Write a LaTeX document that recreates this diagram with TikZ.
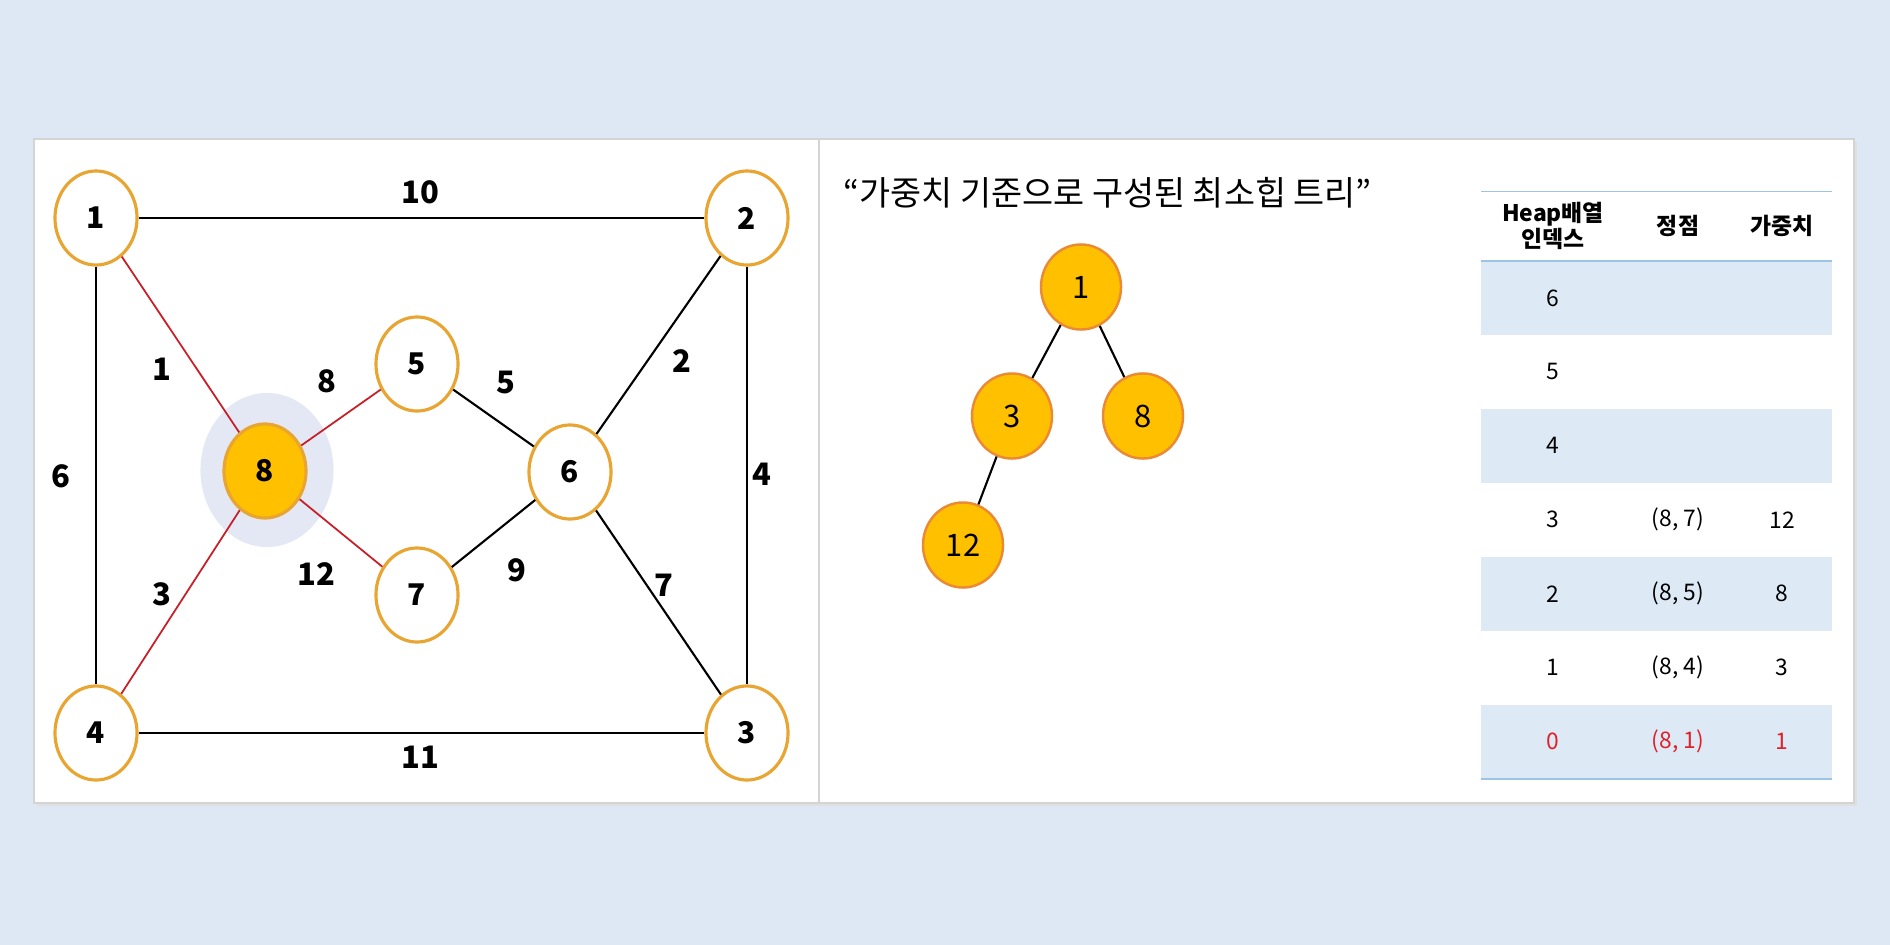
\documentclass[tikz,border=0pt]{standalone}
\usepackage{fontspec}
\setmainfont{Noto Sans CJK KR}
\usetikzlibrary{shapes.geometric}

\definecolor{pagebg}{HTML}{DEE8F5}
\definecolor{halocol}{HTML}{E3E8F4}
\definecolor{vtxline}{HTML}{E8A532}
\definecolor{heapfill}{HTML}{FFC000}
\definecolor{heapline}{HTML}{EB8A35}
\definecolor{mstred}{HTML}{C81E28}
\definecolor{txtred}{HTML}{E0202A}
\definecolor{rowblue}{HTML}{DDEAF6}
\definecolor{rulecol}{HTML}{9DC3E6}
\definecolor{panelline}{HTML}{D4D4D4}

\tikzset{
  vtx/.style={ellipse, draw=vtxline, line width=0.9pt, fill=white,
    minimum width=0.82cm, minimum height=0.94cm, inner sep=0pt,
    font=\fontsize{8.5}{10}\selectfont\bfseries},
  vtxsel/.style={vtx, fill=heapfill},
  heapnode/.style={ellipse, draw=heapline, line width=0.7pt, fill=heapfill,
    minimum width=0.80cm, minimum height=0.85cm, inner sep=0pt,
    font=\fontsize{8.8}{10}\selectfont},
  wlabel/.style={font=\fontsize{8.8}{10}\selectfont\bfseries, inner sep=0pt},
  edge/.style={line width=0.6pt, black},
  mstedge/.style={line width=0.5pt, mstred},
  tabtxt/.style={font=\fontsize{6.5}{7.3}\selectfont, inner sep=0pt},
  tabhead/.style={font=\fontsize{6.5}{7.3}\selectfont\bfseries, inner sep=0pt, align=center}
}

\begin{document}
\begin{tikzpicture}[x=0.01cm, y=-0.01cm]
    % page and panel
    \fill[pagebg] (0,0) rectangle (1890,945);
    \useasboundingbox (0,0) rectangle (1890,945);
    \fill[black!12] (37,142) rectangle (1857,806);
    \fill[white, draw=panelline, line width=0.4pt] (34,139) rectangle (1854,803);
    \draw[panelline, line width=0.6pt] (819,139) -- (819,803);

    % graph
    \node[ellipse, fill=halocol, minimum width=1.33cm, minimum height=1.54cm] (halo) at (267,470) {};
    \node[vtx] (n1) at (96,218) {1};
    \node[vtx] (n2) at (747,218) {2};
    \node[vtx] (n3) at (747,733) {3};
    \node[vtx] (n4) at (96,733) {4};
    \node[vtx] (n5) at (417,364) {5};
    \node[vtx] (n6) at (570,472) {6};
    \node[vtx] (n7) at (417,595) {7};
    \node[vtxsel] (n8) at (265,471) {8};

    \draw[edge] (n1) -- (n2);
    \draw[edge] (n1) -- (n4);
    \draw[edge] (n2) -- (n3);
    \draw[edge] (n4) -- (n3);
    \draw[edge] (n2) -- (n6);
    \draw[edge] (n5) -- (n6);
    \draw[edge] (n7) -- (n6);
    \draw[edge] (n6) -- (n3);
    \draw[mstedge] (n1) -- (n8);
    \draw[mstedge] (n4) -- (n8);
    \draw[mstedge] (n8) -- (n5);
    \draw[mstedge] (n8) -- (n7);

    % weights
    \node[wlabel] (w12) at (420,192) {10};
    \node[wlabel] (w18) at (162,369) {1};
    \node[wlabel] (w85) at (327,381) {8};
    \node[wlabel] (w56) at (506,382) {5};
    \node[wlabel] (w26) at (682,361) {2};
    \node[wlabel] (w14) at (61,476) {6};
    \node[wlabel] (w23) at (762,474) {4};
    \node[wlabel] (w87) at (316,574) {12};
    \node[wlabel] (w76) at (517,570) {9};
    \node[wlabel] (w48) at (162,594) {3};
    \node[wlabel] (w63) at (664,585) {7};
    \node[wlabel] (w43) at (420,757) {11};

    % min heap
    \node[anchor=west, inner sep=0pt, font=\fontsize{9.6}{11}\selectfont] (title) at (843,193)
        {“가중치 기준으로 구성된 최소힙 트리”};
    \node[heapnode] (h1) at (1081,287) {1};
    \node[heapnode] (h3) at (1012,416) {3};
    \node[heapnode] (h8) at (1143,416) {8};
    \node[heapnode] (h12) at (963,545) {12};
    \draw[edge] (h1) -- (h3);
    \draw[edge] (h1) -- (h8);
    \draw[edge] (h3) -- (h12);

    % heap array
    \foreach \k/\idx/\vt/\wt/\col in {0/6///black, 1/5///black, 2/4///black,
        3/3/{(8, 7)}/12/black, 4/2/{(8, 5)}/8/black, 5/1/{(8, 4)}/3/black,
        6/0/{(8, 1)}/1/txtred}{
      \pgfmathsetmacro{\ytop}{260.9+\k*73.97}
      \pgfmathsetmacro{\ymid}{\ytop+36.98}
      \ifodd\k\else
        \fill[rowblue] (1481,\ytop) rectangle (1832,\ytop+73.97);
      \fi
      \node[tabtxt, text=\col] (idx\k) at (1553,\ymid) {\idx};
      \node[tabtxt, text=\col] (vt\k) at (1678,\ymid) {\vt};
      \node[tabtxt, text=\col] (wt\k) at (1782,\ymid) {\wt};
    }
    \draw[rulecol, line width=0.5pt] (1481,191.5) -- (1832,191.5);
    \draw[rulecol, line width=0.5pt] (1481,260.9) -- (1832,260.9);
    \draw[rulecol, line width=0.6pt] (1481,778.7) -- (1832,778.7);
    \node[tabhead] (hidx) at (1553,226) {Heap배열\\인덱스};
    \node[tabhead] (hvt) at (1678,226) {정점};
    \node[tabhead] (hwt) at (1782,226) {가중치};
\end{tikzpicture}
\end{document}
